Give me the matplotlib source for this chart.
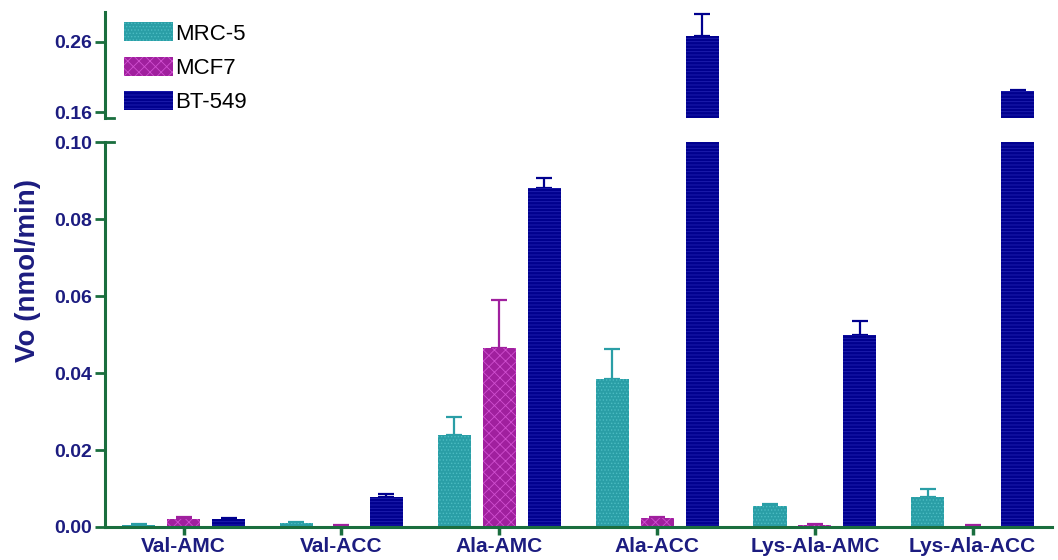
import numpy as np
import matplotlib
matplotlib.use("Agg")
import matplotlib.pyplot as plt
from matplotlib.patches import Patch

plt.rcParams['font.family'] = ['Liberation Sans', 'DejaVu Sans']
plt.rcParams['hatch.linewidth'] = 0.6

categories = ['Val-AMC', 'Val-ACC', 'Ala-AMC', 'Ala-ACC', 'Lys-Ala-AMC', 'Lys-Ala-ACC']
series = ['MRC-5', 'MCF7', 'BT-549']
mrc5 = [0.0005, 0.0010, 0.0240, 0.0385, 0.0055, 0.0078]
mrc5_err = [0.0002, 0.0003, 0.0047, 0.0078, 0.0005, 0.0021]
mcf7 = [0.0020, 0.0003, 0.0466, 0.0022, 0.0005, 0.0003]
mcf7_err = [0.0005, 0.0001, 0.0124, 0.0005, 0.0002, 0.0001]
bt549 = [0.0020, 0.0078, 0.0882, 0.2686, 0.0500, 0.1900]
bt549_err = [0.0003, 0.0007, 0.0024, 0.0310, 0.0036, 0.0020]

colors = ['#2a9ea6', '#a0209e', '#00008e']
hatch_cols = ['#4cbcc2', '#d050d0', '#2020b0']
hatches = ['.....', 'xxx', '-----']
axis_col = '#1a6e3e'
text_col = '#1c1c80'

fig = plt.figure(figsize=(10.58, 5.6), dpi=100)
ax_lo = fig.add_axes([0.099, 0.059, 0.895, 0.687])
ax_hi = fig.add_axes([0.099, 0.789, 0.895, 0.19])

x = np.arange(len(categories))
w = 0.21
offs = [-0.285, 0.0, 0.285]
data = [(mrc5, mrc5_err), (mcf7, mcf7_err), (bt549, bt549_err)]

for ax in (ax_lo, ax_hi):
    for i, (vals, errs) in enumerate(data):
        ax.bar(x + offs[i], vals, w, color=colors[i], edgecolor=hatch_cols[i],
               hatch=hatches[i], linewidth=0, zorder=2)
        ax.errorbar(x + offs[i], vals, yerr=[np.zeros(len(vals)), errs], fmt='none',
                    ecolor=colors[i], elinewidth=1.6, capsize=6, capthick=1.6, zorder=1)
    ax.set_xlim(-0.5, 5.5)
    for s in ['top', 'right']:
        ax.spines[s].set_visible(False)
    ax.spines['left'].set_color(axis_col)
    ax.spines['left'].set_linewidth(2.2)
    ax.tick_params(axis='y', colors=axis_col, width=2, length=7, labelcolor=text_col,
                   labelsize=14, pad=2)

ax_lo.set_ylim(0, 0.10)
ax_lo.set_yticks([0, 0.02, 0.04, 0.06, 0.08, 0.10])
ax_lo.set_yticklabels(['0.00', '0.02', '0.04', '0.06', '0.08', '0.10'], fontweight='bold')
ax_lo.spines['bottom'].set_color(axis_col)
ax_lo.spines['bottom'].set_linewidth(2.2)
ax_lo.set_xticks(x)
ax_lo.set_xticklabels(categories, fontweight='bold', fontsize=15, color=text_col)
ax_lo.tick_params(axis='x', colors=axis_col, width=2.5, length=6, labelcolor=text_col, pad=1)
ax_lo.set_ylabel('Vo (nmol/min)', fontsize=20, fontweight='bold', color=text_col)
ax_lo.yaxis.set_label_coords(-0.067, 0.667)

ax_hi.set_ylim(0.1514, 0.303)
ax_hi.set_yticks([0.16, 0.26])
ax_hi.set_yticklabels(['0.16', '0.26'], fontweight='bold')
ax_hi.spines['bottom'].set_visible(False)
ax_hi.set_xticks([])

# break markers on the axis
ax_hi.plot([-0.5, -0.44], [0.1514, 0.1514], color=axis_col, lw=2, clip_on=False)
ax_lo.plot([-0.5, -0.44], [0.10, 0.10], color=axis_col, lw=2, clip_on=False)

handles = [Patch(facecolor=colors[i], edgecolor=hatch_cols[i], hatch=hatches[i], linewidth=0)
           for i in range(3)]
fig.legend(handles, series, loc='upper left', bbox_to_anchor=(0.109, 0.976), frameon=False,
           fontsize=16, handlelength=2.2, handleheight=0.95, labelspacing=0.55,
           handletextpad=0.1, borderaxespad=0)

fig.savefig('out.png', dpi=100)
